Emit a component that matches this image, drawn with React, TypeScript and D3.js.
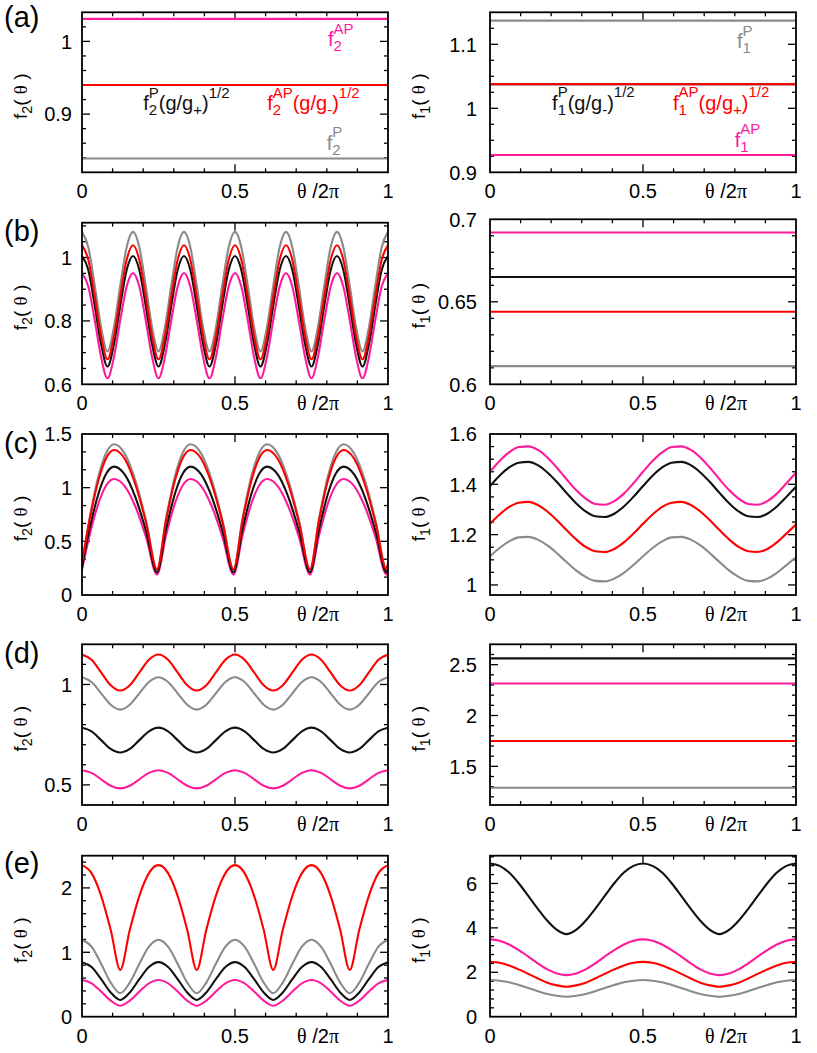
import { useEffect, useRef } from 'react';
import * as d3 from 'd3';

const WIDTH = 817;
const HEIGHT = 1053;
const SANS = '"Liberation Sans", Arial, Helvetica, sans-serif';
const SERIF = '"Liberation Serif", "Times New Roman", serif';

const MAGENTA = '#ff1a9c';
const RED = '#ff0000';
const GRAY = '#8a8a8a';
const BLACK = '#111111';

// sampling grids (theta / 2pi)
const thetaFlat = [0, 1];
const theta48 = [0, 0.0208, 0.0417, 0.0625, 0.0833, 0.1042, 0.125, 0.1458, 0.1667, 0.1875, 0.2083, 0.2292,
  0.25, 0.2708, 0.2917, 0.3125, 0.3333, 0.3542, 0.375, 0.3958, 0.4167, 0.4375, 0.4583, 0.4792,
  0.5, 0.5208, 0.5417, 0.5625, 0.5833, 0.6042, 0.625, 0.6458, 0.6667, 0.6875, 0.7083, 0.7292,
  0.75, 0.7708, 0.7917, 0.8125, 0.8333, 0.8542, 0.875, 0.8958, 0.9167, 0.9375, 0.9583, 0.9792, 1];
const theta32 = [0, 0.03125, 0.0625, 0.09375, 0.125, 0.15625, 0.1875, 0.21875, 0.25, 0.28125, 0.3125,
  0.34375, 0.375, 0.40625, 0.4375, 0.46875, 0.5, 0.53125, 0.5625, 0.59375, 0.625, 0.65625, 0.6875,
  0.71875, 0.75, 0.78125, 0.8125, 0.84375, 0.875, 0.90625, 0.9375, 0.96875, 1];
const thetaC = [0, 0.025, 0.055, 0.08, 0.105, 0.14, 0.175, 0.21, 0.245, 0.275, 0.305, 0.33, 0.355, 0.39,
  0.425, 0.46, 0.495, 0.525, 0.555, 0.58, 0.605, 0.64, 0.675, 0.71, 0.745, 0.775, 0.805, 0.83, 0.855,
  0.89, 0.925, 0.96, 0.995, 1];

// (a) flat levels
const aF2Magenta = [1.031, 1.031];
const aF2Black = [0.940, 0.940];
const aF2Red = [0.940, 0.940];
const aF2Gray = [0.839, 0.839];
const aF1Gray = [1.137, 1.137];
const aF1Black = [1.0375, 1.0375];
const aF1Red = [1.0375, 1.0375];
const aF1Magenta = [0.927, 0.927];

// (b)
const bF2Gray = [1.081, 1.032, 0.911, 0.779, 0.704, 0.779, 0.911, 1.032,
  1.081, 1.032, 0.911, 0.779, 0.704, 0.779, 0.911, 1.032,
  1.081, 1.032, 0.911, 0.779, 0.704, 0.779, 0.911, 1.032,
  1.081, 1.032, 0.911, 0.779, 0.704, 0.779, 0.911, 1.032,
  1.081, 1.032, 0.911, 0.779, 0.704, 0.779, 0.911, 1.032,
  1.081, 1.032, 0.911, 0.779, 0.704, 0.779, 0.911, 1.032, 1.081];
const bF2Red = [1.039, 0.992, 0.877, 0.751, 0.679, 0.751, 0.877, 0.992,
  1.039, 0.992, 0.877, 0.751, 0.679, 0.751, 0.877, 0.992,
  1.039, 0.992, 0.877, 0.751, 0.679, 0.751, 0.877, 0.992,
  1.039, 0.992, 0.877, 0.751, 0.679, 0.751, 0.877, 0.992,
  1.039, 0.992, 0.877, 0.751, 0.679, 0.751, 0.877, 0.992,
  1.039, 0.992, 0.877, 0.751, 0.679, 0.751, 0.877, 0.992, 1.039];
const bF2Black = [1.005, 0.960, 0.848, 0.726, 0.656, 0.726, 0.848, 0.960,
  1.005, 0.960, 0.848, 0.726, 0.656, 0.726, 0.848, 0.960,
  1.005, 0.960, 0.848, 0.726, 0.656, 0.726, 0.848, 0.960,
  1.005, 0.960, 0.848, 0.726, 0.656, 0.726, 0.848, 0.960,
  1.005, 0.960, 0.848, 0.726, 0.656, 0.726, 0.848, 0.960,
  1.005, 0.960, 0.848, 0.726, 0.656, 0.726, 0.848, 0.960, 1.005];
const bF2Magenta = [0.951, 0.908, 0.802, 0.685, 0.619, 0.685, 0.802, 0.908,
  0.951, 0.908, 0.802, 0.685, 0.619, 0.685, 0.802, 0.908,
  0.951, 0.908, 0.802, 0.685, 0.619, 0.685, 0.802, 0.908,
  0.951, 0.908, 0.802, 0.685, 0.619, 0.685, 0.802, 0.908,
  0.951, 0.908, 0.802, 0.685, 0.619, 0.685, 0.802, 0.908,
  0.951, 0.908, 0.802, 0.685, 0.619, 0.685, 0.802, 0.908, 0.951];
const bF1Magenta = [0.692, 0.692];
const bF1Black = [0.665, 0.665];
const bF1Red = [0.644, 0.644];
const bF1Gray = [0.611, 0.611];

// (c)
const cF2Gray = [0.293,
  0.720, 1.119, 1.330, 1.404, 1.315, 1.061, 0.683, 0.235,
  0.720, 1.119, 1.330, 1.404, 1.315, 1.061, 0.683, 0.235,
  0.720, 1.119, 1.330, 1.404, 1.315, 1.061, 0.683, 0.235,
  0.720, 1.119, 1.330, 1.404, 1.315, 1.061, 0.683, 0.235, 0.293];
const cF2Red = [0.296,
  0.701, 1.080, 1.281, 1.351, 1.267, 1.025, 0.666, 0.240,
  0.701, 1.080, 1.281, 1.351, 1.267, 1.025, 0.666, 0.240,
  0.701, 1.080, 1.281, 1.351, 1.267, 1.025, 0.666, 0.240,
  0.701, 1.080, 1.281, 1.351, 1.267, 1.025, 0.666, 0.240, 0.296];
const cF2Black = [0.259,
  0.619, 0.955, 1.134, 1.196, 1.121, 0.907, 0.588, 0.210,
  0.619, 0.955, 1.134, 1.196, 1.121, 0.907, 0.588, 0.210,
  0.619, 0.955, 1.134, 1.196, 1.121, 0.907, 0.588, 0.210,
  0.619, 0.955, 1.134, 1.196, 1.121, 0.907, 0.588, 0.210, 0.259];
const cF2Magenta = [0.235,
  0.560, 0.864, 1.025, 1.081, 1.013, 0.820, 0.531, 0.190,
  0.560, 0.864, 1.025, 1.081, 1.013, 0.820, 0.531, 0.190,
  0.560, 0.864, 1.025, 1.081, 1.013, 0.820, 0.531, 0.190,
  0.560, 0.864, 1.025, 1.081, 1.013, 0.820, 0.531, 0.190, 0.235];
const cF1Magenta = [1.450, 1.493, 1.527, 1.548, 1.551, 1.537, 1.507, 1.466, 1.420, 1.377, 1.343, 1.322, 1.319, 1.333, 1.363, 1.404,
  1.450, 1.493, 1.527, 1.548, 1.551, 1.537, 1.507, 1.466, 1.420, 1.377, 1.343, 1.322, 1.319, 1.333, 1.363, 1.404, 1.446];
const cF1Black = [1.393, 1.434, 1.467, 1.486, 1.489, 1.476, 1.447, 1.409, 1.366, 1.325, 1.292, 1.273, 1.270, 1.283, 1.312, 1.350,
  1.393, 1.434, 1.467, 1.486, 1.489, 1.476, 1.447, 1.409, 1.366, 1.325, 1.292, 1.273, 1.270, 1.283, 1.312, 1.350, 1.390];
const cF1Red = [1.243, 1.280, 1.310, 1.327, 1.330, 1.318, 1.292, 1.257, 1.218, 1.181, 1.151, 1.134, 1.131, 1.143, 1.169, 1.204,
  1.243, 1.280, 1.310, 1.327, 1.330, 1.318, 1.292, 1.257, 1.218, 1.181, 1.151, 1.134, 1.131, 1.143, 1.169, 1.204, 1.240];
const cF1Gray = [1.114, 1.147, 1.173, 1.189, 1.191, 1.180, 1.157, 1.126, 1.091, 1.058, 1.032, 1.016, 1.014, 1.025, 1.048, 1.079,
  1.114, 1.147, 1.173, 1.189, 1.191, 1.180, 1.157, 1.126, 1.091, 1.058, 1.032, 1.016, 1.014, 1.025, 1.048, 1.079, 1.110];

// (d)
const dF2Red = [1.149, 1.123, 1.060, 0.996, 0.970, 0.996, 1.060, 1.123,
  1.149, 1.123, 1.060, 0.996, 0.970, 0.996, 1.060, 1.123,
  1.149, 1.123, 1.060, 0.996, 0.970, 0.996, 1.060, 1.123,
  1.149, 1.123, 1.060, 0.996, 0.970, 0.996, 1.060, 1.123, 1.149];
const dF2Gray = [1.036, 1.012, 0.956, 0.899, 0.875, 0.899, 0.956, 1.012,
  1.036, 1.012, 0.956, 0.899, 0.875, 0.899, 0.956, 1.012,
  1.036, 1.012, 0.956, 0.899, 0.875, 0.899, 0.956, 1.012,
  1.036, 1.012, 0.956, 0.899, 0.875, 0.899, 0.956, 1.012, 1.036];
const dF2Black = [0.785, 0.767, 0.723, 0.679, 0.661, 0.679, 0.723, 0.767,
  0.785, 0.767, 0.723, 0.679, 0.661, 0.679, 0.723, 0.767,
  0.785, 0.767, 0.723, 0.679, 0.661, 0.679, 0.723, 0.767,
  0.785, 0.767, 0.723, 0.679, 0.661, 0.679, 0.723, 0.767, 0.785];
const dF2Magenta = [0.573, 0.560, 0.528, 0.496, 0.483, 0.496, 0.528, 0.560,
  0.573, 0.560, 0.528, 0.496, 0.483, 0.496, 0.528, 0.560,
  0.573, 0.560, 0.528, 0.496, 0.483, 0.496, 0.528, 0.560,
  0.573, 0.560, 0.528, 0.496, 0.483, 0.496, 0.528, 0.560, 0.573];
const dF1Black = [2.562, 2.562];
const dF1Magenta = [2.315, 2.315];
const dF1Red = [1.749, 1.749];
const dF1Gray = [1.289, 1.289];

// (e)
const eF2Red = [2.353, 2.229, 1.877, 1.350, 0.727, 1.350, 1.877, 2.229,
  2.353, 2.229, 1.877, 1.350, 0.727, 1.350, 1.877, 2.229,
  2.353, 2.229, 1.877, 1.350, 0.727, 1.350, 1.877, 2.229,
  2.353, 2.229, 1.877, 1.350, 0.727, 1.350, 1.877, 2.229, 2.353];
const eF2Gray = [1.195, 1.087, 0.821, 0.530, 0.364, 0.530, 0.821, 1.087,
  1.195, 1.087, 0.821, 0.530, 0.364, 0.530, 0.821, 1.087,
  1.195, 1.087, 0.821, 0.530, 0.364, 0.530, 0.821, 1.087,
  1.195, 1.087, 0.821, 0.530, 0.364, 0.530, 0.821, 1.087, 1.195];
const eF2Black = [0.847, 0.771, 0.583, 0.377, 0.260, 0.377, 0.583, 0.771,
  0.847, 0.771, 0.583, 0.377, 0.260, 0.377, 0.583, 0.771,
  0.847, 0.771, 0.583, 0.377, 0.260, 0.377, 0.583, 0.771,
  0.847, 0.771, 0.583, 0.377, 0.260, 0.377, 0.583, 0.771, 0.847];
const eF2Magenta = [0.571, 0.519, 0.391, 0.251, 0.171, 0.251, 0.391, 0.519,
  0.571, 0.519, 0.391, 0.251, 0.171, 0.251, 0.391, 0.519,
  0.571, 0.519, 0.391, 0.251, 0.171, 0.251, 0.391, 0.519,
  0.571, 0.519, 0.391, 0.251, 0.171, 0.251, 0.391, 0.519, 0.571];
const eF1Black = [6.90, 6.79, 6.49, 6.01, 5.44, 4.86, 4.32, 3.91, 3.72, 3.91, 4.32, 4.86, 5.44, 6.01, 6.49, 6.79,
  6.90, 6.79, 6.49, 6.01, 5.44, 4.86, 4.32, 3.91, 3.72, 3.91, 4.32, 4.86, 5.44, 6.01, 6.49, 6.79, 6.90];
const eF1Magenta = [3.48, 3.42, 3.25, 3.00, 2.71, 2.40, 2.13, 1.95, 1.87, 1.95, 2.13, 2.40, 2.71, 3.00, 3.25, 3.42,
  3.48, 3.42, 3.25, 3.00, 2.71, 2.40, 2.13, 1.95, 1.87, 1.95, 2.13, 2.40, 2.71, 3.00, 3.25, 3.42, 3.48];
const eF1Red = [2.47, 2.43, 2.31, 2.13, 1.93, 1.72, 1.53, 1.41, 1.35, 1.41, 1.53, 1.72, 1.93, 2.13, 2.31, 2.43,
  2.47, 2.43, 2.31, 2.13, 1.93, 1.72, 1.53, 1.41, 1.35, 1.41, 1.53, 1.72, 1.93, 2.13, 2.31, 2.43, 2.47];
const eF1Gray = [1.65, 1.62, 1.55, 1.43, 1.29, 1.15, 1.02, 0.94, 0.90, 0.94, 1.02, 1.15, 1.29, 1.43, 1.55, 1.62,
  1.65, 1.62, 1.55, 1.43, 1.29, 1.15, 1.02, 0.94, 0.90, 0.94, 1.02, 1.15, 1.29, 1.43, 1.55, 1.62, 1.65];

const xMajor = [0, 0.5, 1];
const xMajorLabels = ['0', '0.5', '1'];
const panelTags = ['(a)', '(b)', '(c)', '(d)', '(e)'];

// rich text: [text, mode] n=normal, b=subscript, p=superscript, s=sup stacked over previous sub, g=greek
type Seg = [string, string];

const annotations = [
  { panel: 0, theta: 0.804, value: 0.993, color: MAGENTA, segs: [['f', 'n'], ['2', 'b'], ['AP', 's']] },
  { panel: 0, theta: 0.2, value: 0.905, color: BLACK, segs: [['f', 'n'], ['2', 'b'], ['P', 's'], ['(g/g', 'n'], ['+', 'b'], [')', 'n'], ['1/2', 'p']] },
  { panel: 0, theta: 0.605, value: 0.905, color: RED, segs: [['f', 'n'], ['2', 'b'], ['AP', 's'], ['(g/g', 'n'], ['-', 'b'], [')', 'n'], ['1/2', 'p']] },
  { panel: 0, theta: 0.80, value: 0.851, color: GRAY, segs: [['f', 'n'], ['2', 'b'], ['P', 's']] },
  { panel: 1, theta: 0.807, value: 1.094, color: GRAY, segs: [['f', 'n'], ['1', 'b'], ['P', 's']] },
  { panel: 1, theta: 0.203, value: 0.998, color: BLACK, segs: [['f', 'n'], ['1', 'b'], ['P', 's'], ['(g/g', 'n'], ['-', 'b'], [')', 'n'], ['1/2', 'p']] },
  { panel: 1, theta: 0.598, value: 0.998, color: RED, segs: [['f', 'n'], ['1', 'b'], ['AP', 's'], ['(g/g', 'n'], ['+', 'b'], [')', 'n'], ['1/2', 'p']] },
  { panel: 1, theta: 0.80, value: 0.94, color: MAGENTA, segs: [['f', 'n'], ['1', 'b'], ['AP', 's']] },
];

const panels = [
  { col: 0, row: 0, top: 12.3, bottom: 172.3, yDomain: [0.82, 1.04], yMajor: [0.9, 1], yMinor: 0.02, theta: thetaFlat,
    series: [[GRAY, aF2Gray], [MAGENTA, aF2Magenta], [BLACK, aF2Black], [RED, aF2Red]] },
  { col: 1, row: 0, top: 12.3, bottom: 172.3, yDomain: [0.9, 1.15], yMajor: [0.9, 1, 1.1], yMinor: 0.025, theta: thetaFlat,
    series: [[GRAY, aF1Gray], [MAGENTA, aF1Magenta], [BLACK, aF1Black], [RED, aF1Red]] },
  { col: 0, row: 1, top: 222.7, bottom: 384.3, yDomain: [0.6, 1.11], yMajor: [0.6, 0.8, 1], yMinor: 0.05, theta: theta48,
    series: [[GRAY, bF2Gray], [MAGENTA, bF2Magenta], [BLACK, bF2Black], [RED, bF2Red]] },
  { col: 1, row: 1, top: 219.3, bottom: 384.3, yDomain: [0.6, 0.7], yMajor: [0.6, 0.65, 0.7], yMinor: 0.01, theta: thetaFlat,
    series: [[GRAY, bF1Gray], [MAGENTA, bF1Magenta], [BLACK, bF1Black], [RED, bF1Red]] },
  { col: 0, row: 2, top: 434, bottom: 595, yDomain: [0, 1.5], yMajor: [0, 0.5, 1, 1.5], yMinor: 1 / 6, theta: thetaC,
    series: [[GRAY, cF2Gray], [MAGENTA, cF2Magenta], [BLACK, cF2Black], [RED, cF2Red]] },
  { col: 1, row: 2, top: 434, bottom: 595, yDomain: [0.96, 1.6], yMajor: [1, 1.2, 1.4, 1.6], yMinor: 0.05, theta: theta32,
    series: [[GRAY, cF1Gray], [MAGENTA, cF1Magenta], [BLACK, cF1Black], [RED, cF1Red]] },
  { col: 0, row: 3, top: 644.3, bottom: 805, yDomain: [0.4, 1.2], yMajor: [0.5, 1], yMinor: 0.1, theta: theta32,
    series: [[GRAY, dF2Gray], [MAGENTA, dF2Magenta], [BLACK, dF2Black], [RED, dF2Red]] },
  { col: 1, row: 3, top: 644.3, bottom: 805, yDomain: [1.12, 2.7], yMajor: [1.5, 2, 2.5], yMinor: 0.1, theta: thetaFlat,
    series: [[GRAY, dF1Gray], [MAGENTA, dF1Magenta], [BLACK, dF1Black], [RED, dF1Red]] },
  { col: 0, row: 4, top: 855.7, bottom: 1016.7, yDomain: [0, 2.5], yMajor: [0, 1, 2], yMinor: 0.2, theta: theta32,
    series: [[GRAY, eF2Gray], [MAGENTA, eF2Magenta], [BLACK, eF2Black], [RED, eF2Red]] },
  { col: 1, row: 4, top: 855.7, bottom: 1016.7, yDomain: [0, 7.25], yMajor: [0, 2, 4, 6], yMinor: 0.4, theta: theta32,
    series: [[GRAY, eF1Gray], [MAGENTA, eF1Magenta], [BLACK, eF1Black], [RED, eF1Red]] },
];

const tagBaselines = [27, 241, 453, 663, 873];

function rich(parent: any, x: number, y: number, segs: Seg[], size: number, color: string) {
  const t = parent.append('text')
    .attr('x', x).attr('y', y)
    .attr('font-family', SANS).attr('font-size', size)
    .attr('fill', color)
    .style('white-space', 'pre');
  let cur = 0;
  let lastW = 0;
  segs.forEach(([s, m]) => {
    const sp = t.append('tspan').text(s);
    let off = 0;
    let fs = size;
    if (m === 'b') { off = size * 0.25; fs = size * 0.75; }
    if (m === 'p' || m === 's') { off = -size * 0.62; fs = size * 0.75; }
    sp.attr('font-size', fs).attr('dy', off - cur);
    if (m === 's') sp.attr('dx', -lastW);
    if (m === 'g') sp.attr('font-family', SERIF);
    cur = off;
    lastW = (sp.node() as SVGTextContentElement).getComputedTextLength();
  });
  return t;
}

export default function App() {
  const svgRef = useRef<SVGSVGElement>(null);

  useEffect(() => {
    const svg = d3.select(svgRef.current);
    svg.selectAll('*').remove();

    panels.forEach((p, idx) => {
      const left = p.col === 0 ? 82 : 490;
      const right = left + 306;
      const x = d3.scaleLinear().domain([0, 1]).range([left, right]);
      const y = d3.scaleLinear().domain(p.yDomain).range([p.bottom, p.top]);
      const g = svg.append('g');

      const clipId = `clip-${idx}`;
      g.append('clipPath').attr('id', clipId)
        .append('rect')
        .attr('x', left).attr('y', p.top)
        .attr('width', right - left).attr('height', p.bottom - p.top);

      // tick marks, mirrored on all four sides
      const ticks = g.append('g').attr('stroke', '#000').attr('stroke-width', 1.3);
      const xMinor = d3.range(0.1, 1, 0.1).filter(v => Math.abs(v - 0.5) > 1e-6);
      const xt = [...xMajor.filter(v => v > 0 && v < 1).map(v => [v, 8]), ...xMinor.map(v => [v, 4])];
      xt.forEach(([v, len]) => {
        ticks.append('line').attr('x1', x(v)).attr('x2', x(v)).attr('y1', p.bottom).attr('y2', p.bottom - len);
        ticks.append('line').attr('x1', x(v)).attr('x2', x(v)).attr('y1', p.top).attr('y2', p.top + len);
      });
      const [lo, hi] = p.yDomain;
      const eps = 1e-6;
      const yMinorVals = d3.range(Math.ceil(lo / p.yMinor - eps), Math.floor(hi / p.yMinor + eps) + 1)
        .map(k => k * p.yMinor)
        .filter(v => !p.yMajor.some(m => Math.abs(m - v) < p.yMinor * 0.05));
      const yt = [...p.yMajor.map(v => [v, 8]), ...yMinorVals.map(v => [v, 4])]
        .filter(([v]) => Math.abs(y(v) - p.top) > 0.8 && Math.abs(y(v) - p.bottom) > 0.8);
      yt.forEach(([v, len]) => {
        ticks.append('line').attr('x1', left).attr('x2', left + len).attr('y1', y(v)).attr('y2', y(v));
        ticks.append('line').attr('x1', right).attr('x2', right - len).attr('y1', y(v)).attr('y2', y(v));
      });

      // curves
      const line = d3.line<number>()
        .x((_, i) => x(p.theta[i]))
        .y(d => y(d))
        .curve(d3.curveMonotoneX);
      const lines = g.append('g').attr('clip-path', `url(#${clipId})`);
      p.series.forEach(([color, values]) => {
        lines.append('path')
          .attr('d', line(values as number[]))
          .attr('fill', 'none')
          .attr('stroke', color as string)
          .attr('stroke-width', 2.1)
          .attr('stroke-linejoin', 'round');
      });

      // frame
      g.append('rect')
        .attr('x', left).attr('y', p.top)
        .attr('width', right - left).attr('height', p.bottom - p.top)
        .attr('fill', 'none').attr('stroke', '#000').attr('stroke-width', 1.8);

      // y tick labels
      const labelX = p.col === 0 ? left - 10 : left - 13;
      p.yMajor.forEach(v => {
        g.append('text')
          .attr('x', labelX).attr('y', y(v)).attr('dy', '0.36em')
          .attr('text-anchor', 'end')
          .attr('font-family', SANS).attr('font-size', 20)
          .text(String(v));
      });

      // x tick labels
      xMajor.forEach((v, i) => {
        g.append('text')
          .attr('x', x(v)).attr('y', p.bottom + 26)
          .attr('text-anchor', 'middle')
          .attr('font-family', SANS).attr('font-size', 20)
          .text(xMajorLabels[i]);
      });
      rich(g, x(0.703), p.bottom + 26, [['θ', 'g'], [' /2', 'n'], ['π', 'g']], 20, '#000');

      // y axis title
      const cy = (p.top + p.bottom) / 2 + 4;
      const ax = p.col === 0 ? 27 : 425;
      const title = rich(g, 0, 0, [['f', 'n'], [p.col === 0 ? '2' : '1', 'b'], ['( ', 'n'], ['θ', 'g'], [' )', 'n']], 19, '#000');
      const w = (title.node() as SVGTextContentElement).getComputedTextLength();
      title.attr('x', -w / 2).attr('transform', `translate(${ax},${cy}) rotate(-90)`);

      if (p.col === 0) {
        g.append('text')
          .attr('x', 4).attr('y', tagBaselines[p.row])
          .attr('font-family', SANS).attr('font-size', 29)
          .text(panelTags[p.row]);
      }

      annotations.filter(a => a.panel === idx).forEach(a => {
        rich(g, x(a.theta), y(a.value), a.segs as Seg[], 20, a.color);
      });
    });
  }, []);

  return (
    <svg
      ref={svgRef}
      width={WIDTH}
      height={HEIGHT}
      style={{ position: 'absolute', left: 0, top: 0, background: '#fff' }}
    />
  );
}
